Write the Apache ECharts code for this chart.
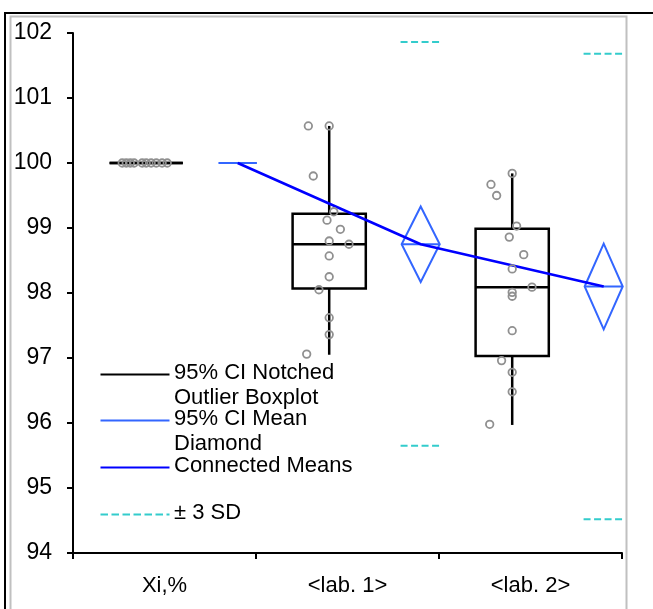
<!DOCTYPE html>
<html>
<head>
<meta charset="utf-8">
<script src="https://cdn.jsdelivr.net/npm/echarts@6/dist/echarts.min.js"></script>
<style>
  html, body { margin: 0; padding: 0; background: #fff; }
  #chart { width: 653px; height: 609px; }
</style>
</head>
<body>
<div id="chart"></div>
<script>
// categories and values
const categories = ['Xi,%', '<lab. 1>', '<lab. 2>']
// [whisker low, q1, median, q3, whisker high]
const boxStats = [
  [100, 100, 100, 100, 100],
  [97.05, 98.07, 98.75, 99.22, 100.57],
  [95.97, 97.03, 98.09, 98.99, 99.84]
]
const means = [100, 98.75, 98.1]
// 95% CI of the mean [low, high]
const meanCI = [
  [100, 100],
  [98.17, 99.33],
  [97.44, 98.76]
]
// mean -3 SD, mean +3 SD
const sdBounds = [null, [95.65, 101.86], [94.52, 101.68]]

// raw observations per category and their horizontal jitter (category units)
const valuesXi = [100, 100, 100, 100, 100, 100, 100, 100, 100, 100]
const jitterXi = [-0.131, -0.109, -0.087, -0.066, -0.022, 0, 0.027, 0.055, 0.087, 0.115]
const valuesLab1 = [100.57, 100.57, 99.8, 99.25, 99.12, 98.98, 98.8, 98.75, 98.57, 98.25, 98.05, 97.62, 97.36, 97.06]
const jitterLab1 = [-0.114, 0, -0.087, 0.025, -0.012, 0.061, 0, 0.108, 0, 0, -0.056, 0, 0, -0.123]
const valuesLab2 = [99.84, 99.67, 99.5, 99.03, 98.86, 98.59, 98.37, 98.09, 98.01, 97.95, 97.42, 96.96, 96.78, 96.48, 95.98]
const jitterLab2 = [0, -0.116, -0.085, 0.024, -0.016, 0.063, 0, 0.108, 0, 0, 0, -0.058, 0, 0, -0.123]

const FONT = '"Liberation Sans", Arial, sans-serif'
const BOX_OFFSET = -0.1 // box sits left of category centre
const DIAMOND_OFFSET = 0.4 // diamond sits right of category centre
const BOX_HALF = 0.2
const DIAMOND_HALF = 0.104
const SD_HALF = 0.11

const rawValues = [valuesXi, valuesLab1, valuesLab2]
const rawJitter = [jitterXi, jitterLab1, jitterLab2]
const points = []
rawValues.forEach((vals, i) => {
  vals.forEach((v, j) => points.push([i + 0.5 + BOX_OFFSET + rawJitter[i][j], v]))
})

const boxData = boxStats.map((s, i) => [i + 0.5 + BOX_OFFSET, ...s])
const diamondData = means.map((m, i) => [i + 0.5 + DIAMOND_OFFSET, meanCI[i][0], m, meanCI[i][1]])
const meanLine = means.map((m, i) => [i + 0.5 + DIAMOND_OFFSET, m])
const sdData = []
sdBounds.forEach((b, i) => { if (b) sdData.push([i + 0.5 + DIAMOND_OFFSET, b[0], b[1]]) })

function renderBox(params, api) {
  const x = api.value(0)
  const pt = (dx, v) => api.coord([x + dx, v])
  const style = { stroke: '#000', lineWidth: 2.5, fill: null }
  const line = (a, b) => ({ type: 'line', shape: { x1: a[0], y1: a[1], x2: b[0], y2: b[1] }, style })
  const tl = pt(-BOX_HALF, api.value(4))
  const br = pt(BOX_HALF, api.value(2))
  return {
    type: 'group',
    children: [
      line(pt(0, api.value(1)), pt(0, api.value(2))),
      line(pt(0, api.value(4)), pt(0, api.value(5))),
      { type: 'rect', shape: { x: tl[0], y: tl[1], width: br[0] - tl[0], height: br[1] - tl[1] }, style },
      line(pt(-BOX_HALF, api.value(3)), pt(BOX_HALF, api.value(3)))
    ]
  }
}

function renderDiamond(params, api) {
  const x = api.value(0)
  const pt = (dx, v) => api.coord([x + dx, v])
  const l = pt(-DIAMOND_HALF, api.value(2))
  const r = pt(DIAMOND_HALF, api.value(2))
  const top = pt(0, api.value(3))
  const bot = pt(0, api.value(1))
  const style = { stroke: '#3366FF', lineWidth: 2, fill: null }
  return {
    type: 'group',
    children: [
      { type: 'polygon', shape: { points: [l, top, r, bot] }, style },
      { type: 'line', shape: { x1: l[0], y1: l[1], x2: r[0], y2: r[1] }, style }
    ]
  }
}

function renderSD(params, api) {
  const x = api.value(0)
  const style = { stroke: '#33CCCC', lineWidth: 2, lineDash: [7, 3.5] }
  const children = [1, 2].map(k => {
    const a = api.coord([x - SD_HALF, api.value(k)])
    const b = api.coord([x + SD_HALF, api.value(k)])
    return { type: 'line', shape: { x1: a[0], y1: a[1], x2: b[0], y2: b[1] }, style }
  })
  return { type: 'group', children }
}

// legend drawn Excel-style: line sample with wrapped label
const legendItems = [
  { y: 373, text: '95% CI Notched\nOutlier Boxplot', color: '#000', dash: null },
  { y: 419, text: '95% CI Mean\nDiamond', color: '#3366FF', dash: null },
  { y: 466, text: 'Connected Means', color: '#0000FF', dash: null },
  { y: 513, text: '\u00b1 3 SD', color: '#33CCCC', dash: [7.5, 3.5] }
]
const legendGraphics = []
legendItems.forEach(it => {
  legendGraphics.push({
    type: 'line', left: 98, top: it.y - 1,
    shape: { x1: 0, y1: 0, x2: 69, y2: 0 },
    style: { stroke: it.color, lineWidth: 2, lineDash: it.dash }
  })
  legendGraphics.push({
    type: 'text', left: 174, top: it.y - 13,
    style: { text: it.text, font: '22px ' + FONT, fill: '#000', lineHeight: 25.5 }
  })
})

const frame = [
  { type: 'rect', left: 8, top: 14, shape: { x: 0, y: 0, width: 616, height: 620 }, style: { stroke: '#c0c0c0', lineWidth: 2, fill: null }, silent: true },
  { type: 'line', shape: { x1: 5, y1: 12, x2: 5, y2: 609 }, style: { stroke: '#000', lineWidth: 2 } },
  { type: 'line', shape: { x1: 4, y1: 13, x2: 653, y2: 13 }, style: { stroke: '#000', lineWidth: 2 } }
]

const chart = echarts.init(document.getElementById('chart'), null, { renderer: 'canvas' })
chart.setOption({
  animation: false,
  backgroundColor: '#fff',
  textStyle: { fontFamily: FONT },
  grid: { left: 73, right: 31, top: 33, bottom: 56 },
  xAxis: [
    {
      type: 'category',
      data: categories,
      boundaryGap: true,
      axisLine: { lineStyle: { color: '#000', width: 2 } },
      axisTick: { show: true, length: 6, lineStyle: { color: '#000', width: 2 } },
      axisLabel: { color: '#000', fontSize: 22, fontFamily: FONT, margin: 22 },
      splitLine: { show: false }
    },
    { type: 'value', min: 0, max: 3, show: false }
  ],
  yAxis: {
    type: 'value',
    min: 94,
    max: 102,
    interval: 1,
    axisLine: { show: true, lineStyle: { color: '#000', width: 2 } },
    axisTick: { show: true, length: 6, lineStyle: { color: '#000', width: 2 } },
    axisLabel: { color: '#000', fontSize: 23, fontFamily: FONT, margin: 21 },
    splitLine: { show: false }
  },
  series: [
    {
      type: 'custom', name: 'SD', xAxisIndex: 1, data: sdData,
      renderItem: renderSD, clip: false, silent: true
    },
    {
      type: 'custom', name: 'Boxplot', xAxisIndex: 1, data: boxData,
      renderItem: renderBox, clip: false, silent: true, z: 3
    },
    {
      type: 'custom', name: 'Diamond', xAxisIndex: 1, data: diamondData,
      renderItem: renderDiamond, clip: false, silent: true, z: 3
    },
    {
      type: 'line', name: 'Connected Means', xAxisIndex: 1, data: meanLine,
      symbol: 'none', lineStyle: { color: '#0000FF', width: 2.5 }, z: 4, silent: true
    },
    {
      type: 'scatter', name: 'Points', xAxisIndex: 1, data: points,
      symbol: 'circle', symbolSize: 7.5,
      itemStyle: { color: 'rgba(255,255,255,0)', borderColor: '#909090', borderWidth: 1.8, opacity: 1 },
      z: 5, silent: true
    }
  ],
  graphic: frame.concat(legendGraphics)
})
</script>
</body>
</html>
